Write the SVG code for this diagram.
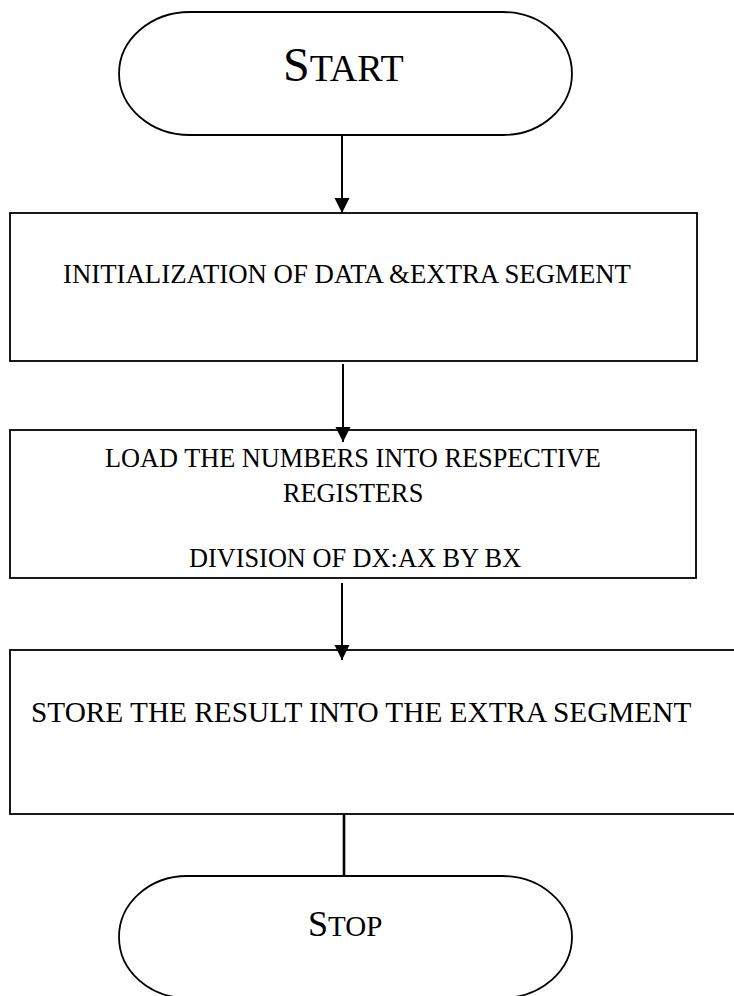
<svg xmlns="http://www.w3.org/2000/svg" width="734" height="996" viewBox="0 0 734 996">
<defs>
<style>
.shape{fill:#fff;stroke:#000;stroke-width:1.8}
.conn{stroke:#000;stroke-width:2;fill:none}
.t{font-family:"Liberation Serif","Times New Roman",serif;fill:#000}
.body{font-size:26.3px}
</style>
<marker id="ah" markerUnits="userSpaceOnUse" markerWidth="16" markerHeight="16" refX="15" refY="7.5" orient="auto">
<path d="M0,0 L15,7.5 L0,15 z" fill="#000"/>
</marker>
</defs>
<rect width="734" height="996" fill="#fff"/>
<g id="start">
<path class="shape" d="M190,12 H503 A69,61.5 0 0 1 503,135 H190 A71,61.5 0 0 1 190,12 Z"/>
<text class="t" x="283" y="81"><tspan font-size="48">S</tspan><tspan font-size="38">TART</tspan></text>
</g>
<g id="init">
<rect class="shape" x="10" y="213" width="687" height="148"/>
<text class="t" font-size="26.8" x="63" y="283">INITIALIZATION OF DATA &amp;EXTRA SEGMENT</text>
</g>
<g id="load">
<rect class="shape" x="10" y="430" width="686" height="148"/>
<text class="t body" x="105" y="467">LOAD THE NUMBERS INTO RESPECTIVE</text>
<text class="t body" x="283" y="502">REGISTERS</text>
<text class="t body" x="189" y="567">DIVISION OF DX:AX BY BX</text>
</g>
<g id="store">
<rect class="shape" x="10" y="650" width="740" height="164"/>
<text class="t" font-size="29.3" x="31" y="722">STORE THE RESULT INTO THE EXTRA SEGMENT</text>
</g>
<g id="stop">
<path class="shape" d="M187,876 H502 A70,61 0 0 1 502,998 H187 A68,61 0 0 1 187,876 Z"/>
<text class="t" x="308" y="936"><tspan font-size="36">S</tspan><tspan font-size="29">TOP</tspan></text>
</g>
<g id="connectors">
<line class="conn" x1="342" y1="135" x2="342" y2="213" marker-end="url(#ah)"/>
<line class="conn" x1="343" y1="364" x2="343" y2="442" marker-end="url(#ah)"/>
<line class="conn" x1="342" y1="583" x2="342" y2="660" marker-end="url(#ah)"/>
<line class="conn" x1="344" y1="814" x2="344" y2="876" style="stroke-width:2.6"/>
</g>
</svg>
